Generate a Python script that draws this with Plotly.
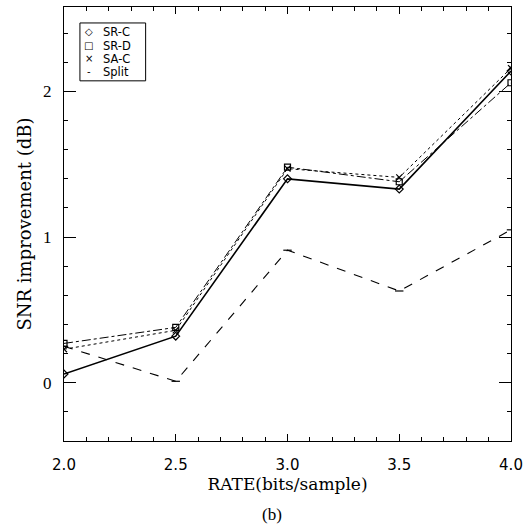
import plotly.graph_objects as go

rate = [2.0, 2.5, 3.0, 3.5, 4.0]
sr_c = [0.06, 0.32, 1.40, 1.33, 2.14]
sr_d = [0.27, 0.38, 1.48, 1.38, 2.06]
sa_c = [0.23, 0.36, 1.47, 1.41, 2.16]
split = [0.25, 0.01, 0.91, 0.63, 1.05]

series_names = ["SR-C", "SR-D", "SA-C", "Split"]
legend_glyphs = ["◇", "□", "×", "-"]

series = [
    (sr_c, "solid", "diamond-open", 1.6),
    (sr_d, "dashdot", "square-open", 1.0),
    (sa_c, "dot", "x-thin-open", 1.0),
    (split, "dash", "line-ew-open", 1.1),
]

fig = go.Figure()
for name, (vals, dash, sym, w) in zip(series_names, series):
    fig.add_trace(go.Scatter(
        x=rate, y=vals, mode="lines+markers", name=name, showlegend=False,
        line=dict(color="black", width=w, dash=dash),
        marker=dict(symbol=sym, size=6, color="black", line=dict(color="black", width=1.2)),
    ))

# plot area in pixels: x 64..513, y 6..441
def px(x):
    return (x - 64) / 449.0

def py(y):
    return (441 - y) / 435.0

annotations = []
row_y = [31, 45, 58, 71]
for g, n, ry in zip(legend_glyphs, series_names, row_y):
    annotations.append(dict(text=g, xref="paper", yref="paper", x=px(89), y=py(ry),
                            showarrow=False, xanchor="center", yanchor="middle",
                            font=dict(family="DejaVu Sans", size=10, color="black")))
    annotations.append(dict(text=n, xref="paper", yref="paper", x=px(101), y=py(ry),
                            showarrow=False, xanchor="left", yanchor="middle",
                            font=dict(family="DejaVu Sans", size=11.5, color="black")))

annotations.append(dict(
    text="(b)", xref="paper", yref="paper", x=px(273), y=py(515),
    showarrow=False, font=dict(family="Liberation Serif", size=17, color="black"),
    xanchor="center", yanchor="middle",
))

fig.update_layout(
    width=529, height=529,
    margin=dict(l=64, r=16, t=6, b=88),
    paper_bgcolor="white", plot_bgcolor="white",
    showlegend=False,
    shapes=[dict(type="rect", xref="paper", yref="paper",
                 x0=px(80), x1=px(146), y0=py(80), y1=py(22),
                 line=dict(color="black", width=1), fillcolor="white", layer="above")],
    xaxis=dict(
        range=[2.0, 4.0], tickvals=[2.0, 2.5, 3.0, 3.5, 4.0],
        ticktext=["2.0", "2.5", "3.0", "3.5", "4.0"],
        showline=True, linecolor="black", linewidth=1.2, mirror="ticks",
        ticks="inside", ticklen=7, tickcolor="black",
        minor=dict(dtick=0.1, ticks="inside", ticklen=4, tickcolor="black"),
        showgrid=False, zeroline=False,
        tickfont=dict(family="DejaVu Sans", size=15, color="black"),
        ticklabelstandoff=10,
        title=dict(text="RATE(bits/sample)", font=dict(family="DejaVu Serif", size=17, color="black"), standoff=2),
    ),
    yaxis=dict(
        range=[-0.40, 2.58], tickvals=[0, 1, 2],
        showline=True, linecolor="black", linewidth=1.2, mirror="ticks",
        ticks="inside", ticklen=12, tickcolor="black",
        minor=dict(dtick=0.2, ticks="inside", ticklen=4, tickcolor="black"),
        showgrid=False, zeroline=False,
        tickfont=dict(family="Liberation Serif", size=17, color="black"),
        ticklabelstandoff=8,
        title=dict(text="SNR improvement (dB)", font=dict(family="DejaVu Serif", size=18, color="black"), standoff=6),
    ),
    annotations=annotations,
)

fig.write_html("out.html")
